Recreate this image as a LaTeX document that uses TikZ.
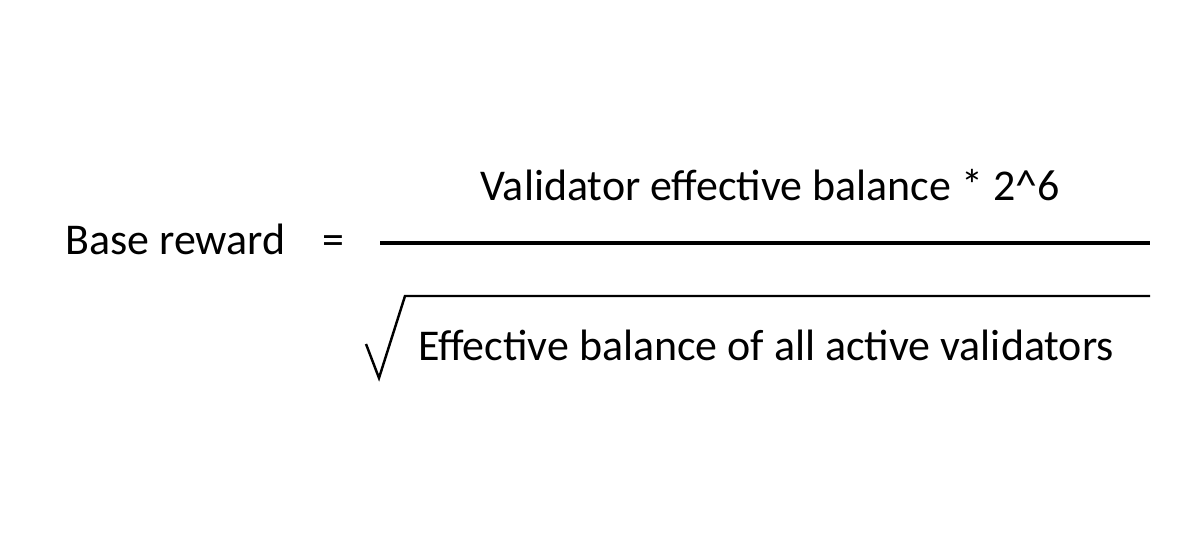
\documentclass[tikz,border=0pt]{standalone}
\usepackage{fontspec}
\setmainfont{Carlito}
\usetikzlibrary{positioning}
\begin{document}
\begin{tikzpicture}[x=0.02cm,y=-0.02cm,
  txt/.style={inner sep=0pt, font=\fontsize{25}{30}\selectfont},
  rule/.style={line width=2.4pt}]
\useasboundingbox (0,0) rectangle (1200,558);

\node (lhs) [txt, anchor=base west] at (65,254) {Base reward};
\node (eq) [txt, anchor=base] at (333,254) {=};
\node (num) [txt, anchor=base] at (770,200) {Validator effective balance * 2\textasciicircum 6};
\node (den) [txt, anchor=base west] at (418,360) {Effective balance of all active validators};

% fraction bar
\coordinate (barL) at (380,243);
\coordinate (barR) at (1150,243);
\draw[rule] (barL) -- (barR);

% square root sign
\coordinate (rootA) at (366,344);
\coordinate (rootB) at (379,378);
\coordinate (rootC) at (405,296);
\coordinate (rootD) at (1150,296);
\draw[line width=1.4pt, line join=miter] (rootA) -- (rootB) -- (rootC) -- (rootD);
\end{tikzpicture}
\end{document}
